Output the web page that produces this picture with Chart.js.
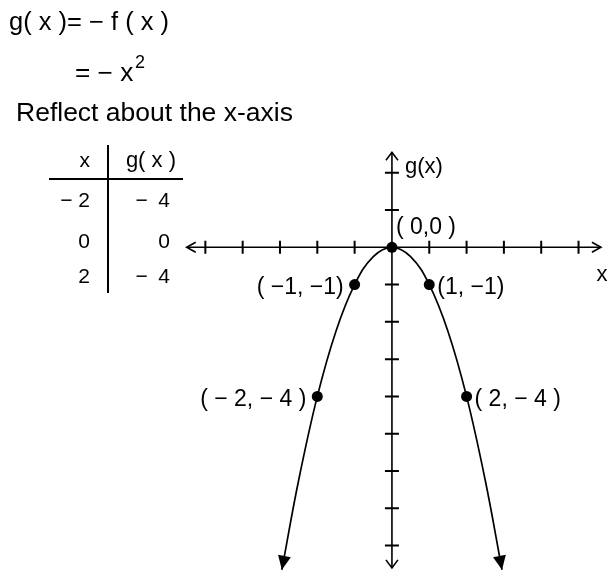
<!DOCTYPE html>
<html>
<head>
<meta charset="utf-8">
<title>g(x) = -f(x)</title>
<script src="https://cdn.jsdelivr.net/npm/chart.js@4/dist/chart.umd.min.js"></script>
<style>
  html, body { margin: 0; padding: 0; background: #fff; }
  canvas { display: block; }
</style>
</head>
<body>
<canvas id="graph" width="613" height="577"></canvas>
<script>
// values of g(x) = -x^2
const curveX = [-2.95, -2.5, -2, -1.5, -1, -0.5, 0, 0.5, 1, 1.5, 2, 2.5, 2.95];
const curveY = [-8.65, -6.25, -4, -2.25, -1, -0.25, 0, -0.25, -1, -2.25, -4, -6.25, -8.65];

// labelled points
const dotX = [-2, -1, 0, 1, 2];
const dotY = [-4, -1, 0, -1, -4];
const dotLabels = ['( \u2212 2, \u2212 4 )', '( \u22121, \u22121)', '( 0,0 )', '(1, \u22121)', '( 2, \u2212 4 )'];

// table of values
const tableX = ['\u2212 2', '0', '2'];
const tableG = ['\u2212\u20024', '0', '\u2212\u20024'];

// axis ticks and extents
const xTicks = [-5, -4, -3, -2, -1, 1, 2, 3, 4, 5];
const yTicks = [2, 1, -1, -2, -3, -4, -5, -6, -7, -8];
const xAxisRange = [-5.5, 5.6];
const yAxisRange = [-8.6, 2.55];

const FONT = '"Liberation Sans", Arial, sans-serif';

// text drawn slightly wider than the font's natural width
function wideText(ctx, text, x, y, sx) {
    ctx.save();
    ctx.translate(x, y);
    ctx.scale(sx, 1);
    ctx.fillText(text, 0, 0);
    ctx.restore();
}

function openArrow(ctx, x, y, dx, dy, len, half) {
    // chevron with tip at (x, y) pointing along (dx, dy)
    const nx = -dy, ny = dx;
    ctx.beginPath();
    ctx.moveTo(x - dx * len + nx * half, y - dy * len + ny * half);
    ctx.lineTo(x, y);
    ctx.lineTo(x - dx * len - nx * half, y - dy * len - ny * half);
    ctx.stroke();
}

function solidArrow(ctx, x, y, dx, dy, len, half) {
    const nx = -dy, ny = dx;
    ctx.beginPath();
    ctx.moveTo(x, y);
    ctx.lineTo(x - dx * len + nx * half, y - dy * len + ny * half);
    ctx.lineTo(x - dx * len - nx * half, y - dy * len - ny * half);
    ctx.closePath();
    ctx.fill();
}

const axesPlugin = {
    id: 'axesPlugin',
    beforeDatasetsDraw(chart) {
        const ctx = chart.ctx;
        const xs = chart.scales.x, ys = chart.scales.y;
        const ox = xs.getPixelForValue(0), oy = ys.getPixelForValue(0);
        const x0 = xs.getPixelForValue(xAxisRange[0]), x1 = xs.getPixelForValue(xAxisRange[1]);
        const y0 = ys.getPixelForValue(yAxisRange[0]), y1 = ys.getPixelForValue(yAxisRange[1]);

        ctx.save();
        ctx.strokeStyle = '#000';
        ctx.lineWidth = 1.6;
        ctx.beginPath();
        ctx.moveTo(x0, oy); ctx.lineTo(x1, oy);
        ctx.moveTo(ox, y0); ctx.lineTo(ox, y1);
        ctx.stroke();

        openArrow(ctx, x0, oy, -1, 0, 9, 5);
        openArrow(ctx, x1, oy, 1, 0, 9, 5);
        openArrow(ctx, ox, y1, 0, -1, 8, 6);
        openArrow(ctx, ox, y0, 0, 1, 8, 6);

        ctx.lineWidth = 2;
        ctx.beginPath();
        xTicks.forEach(v => {
            const px = xs.getPixelForValue(v);
            ctx.moveTo(px, oy - 6.5); ctx.lineTo(px, oy + 6.5);
        });
        yTicks.forEach(v => {
            const py = ys.getPixelForValue(v);
            ctx.moveTo(ox - 7, py); ctx.lineTo(ox + 7, py);
        });
        ctx.stroke();

        ctx.fillStyle = '#000';
        ctx.font = '22px ' + FONT;
        ctx.textBaseline = 'middle';
        ctx.textAlign = 'left';
        ctx.fillText('g(x)', ox + 13, ys.getPixelForValue(2) - 6);
        ctx.textAlign = 'center';
        ctx.fillText('x', x1 + 1, oy + 28);
        ctx.restore();
    },
    afterDatasetsDraw(chart) {
        const ctx = chart.ctx;
        const xs = chart.scales.x, ys = chart.scales.y;
        ctx.save();
        ctx.fillStyle = '#000';

        // arrowheads at both ends of the curve
        const pts = chart.getDatasetMeta(0).data;
        [[pts[0], pts[1]], [pts[pts.length - 1], pts[pts.length - 2]]].forEach(([tip, prev]) => {
            const dx = tip.x - prev.x, dy = tip.y - prev.y;
            const d = Math.hypot(dx, dy);
            solidArrow(ctx, tip.x, tip.y, dx / d, dy / d, 14, 6.5);
        });

        // point labels
        ctx.font = '23px ' + FONT;
        ctx.textBaseline = 'middle';
        dotX.forEach((v, i) => {
            const px = xs.getPixelForValue(v), py = ys.getPixelForValue(dotY[i]);
            if (v < 0) {
                ctx.textAlign = 'right';
                ctx.fillText(dotLabels[i], px - 11, py + 3);
            } else if (v > 0) {
                ctx.textAlign = 'left';
                ctx.fillText(dotLabels[i], px + 8, py + 3);
            } else {
                ctx.textAlign = 'left';
                ctx.fillText(dotLabels[i], px + 4, py - 20);
            }
        });
        ctx.restore();
    },
    afterDraw(chart) {
        const ctx = chart.ctx;
        ctx.save();
        ctx.fillStyle = '#000';
        ctx.strokeStyle = '#000';
        ctx.textBaseline = 'alphabetic';
        ctx.textAlign = 'left';

        // equation lines
        ctx.font = '25px ' + FONT;
        wideText(ctx, 'g( x )= \u2212 f ( x )', 9, 30, 1.02);
        wideText(ctx, '= \u2212 x', 75, 81, 1.05);
        ctx.font = '18px ' + FONT;
        ctx.fillText('2', 135, 68);
        ctx.font = '25px ' + FONT;
        wideText(ctx, 'Reflect about the x-axis', 16, 121, 1.06);

        // table of values
        ctx.lineWidth = 2;
        ctx.beginPath();
        ctx.moveTo(49, 179); ctx.lineTo(183, 179);
        ctx.moveTo(108, 145); ctx.lineTo(108, 293);
        ctx.stroke();

        ctx.textAlign = 'right';
        ctx.font = '21px ' + FONT;
        ctx.fillText('x', 90, 167);
        ctx.font = '22px ' + FONT;
        ctx.fillText('g( x )', 176, 167);
        ctx.font = '21px ' + FONT;
        const rowBase = [207, 248, 283];
        tableX.forEach((t, i) => {
            ctx.fillText(t, 90, rowBase[i]);
            ctx.fillText(tableG[i], 170, rowBase[i]);
        });
        ctx.restore();
    }
};

const curveData = curveX.map((x, i) => ({ x: x, y: curveY[i] }));
const dotData = dotX.map((x, i) => ({ x: x, y: dotY[i] }));

// 38 px per unit on both axes, origin near (393.5, 246.5)
new Chart(document.getElementById('graph'), {
    type: 'scatter',
    data: {
        datasets: [
            {
                data: curveData,
                showLine: true,
                borderColor: '#000',
                borderWidth: 1.7,
                pointRadius: 0,
                tension: 0.4,
                clip: false
            },
            {
                data: dotData,
                showLine: false,
                pointRadius: 5.5,
                pointBackgroundColor: '#000',
                pointBorderColor: '#000',
                pointBorderWidth: 0,
                clip: false
            }
        ]
    },
    options: {
        responsive: false,
        animation: false,
        events: [],
        layout: { padding: 0 },
        plugins: {
            legend: { display: false },
            tooltip: { enabled: false }
        },
        scales: {
            x: { type: 'linear', display: false, min: -393.5 / 38, max: (613 - 393.5) / 38 },
            y: { type: 'linear', display: false, min: -(577 - 246.5) / 38, max: 246.5 / 38 }
        }
    },
    plugins: [axesPlugin]
});
</script>
</body>
</html>
